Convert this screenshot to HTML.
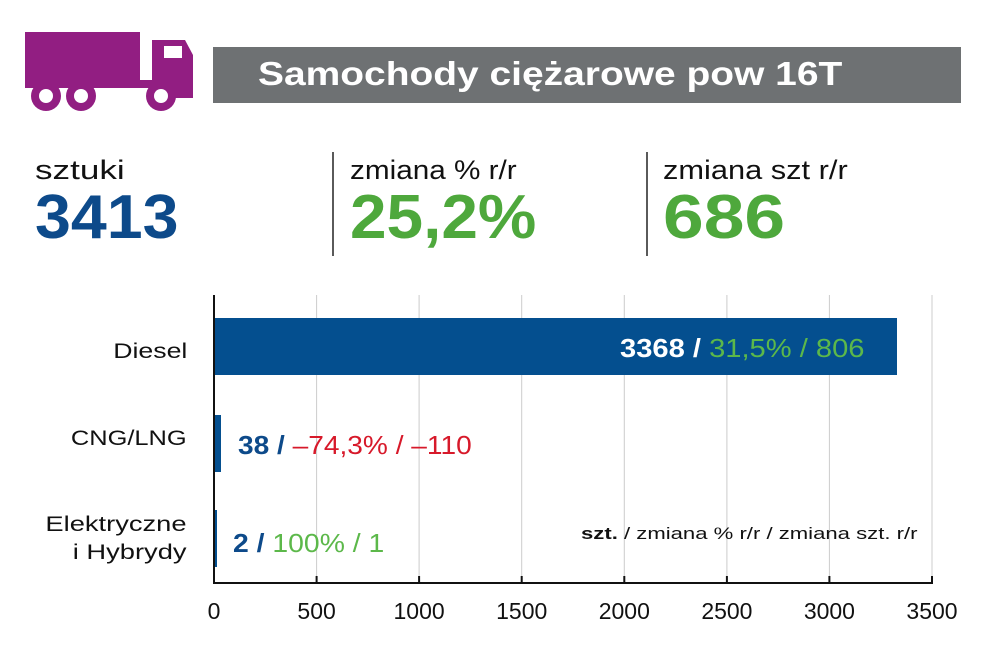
<!DOCTYPE html>
<html><head><meta charset="utf-8"><style>
body{margin:0;width:1000px;height:654px;background:#fff;font-family:"Liberation Sans",sans-serif;overflow:hidden;position:relative}
.a{position:absolute;white-space:nowrap;transform-origin:left top}
.r{transform-origin:right top}
</style></head><body>
<svg class="a" style="left:0;top:0" width="1000" height="654">
<g fill="#921e82">
<rect x="25" y="32" width="115" height="49"/>
<rect x="25" y="80" width="165" height="8"/>
<path d="M152 40 H185 L193 55 V98 H152 Z"/>
<circle cx="46" cy="96" r="15"/><circle cx="81" cy="96" r="15"/><circle cx="161" cy="96" r="15"/>
</g>
<rect x="164" y="46" width="18" height="12" fill="#fff"/>
<circle cx="46" cy="96" r="7" fill="#fff"/><circle cx="81" cy="96" r="7" fill="#fff"/><circle cx="161" cy="96" r="7" fill="#fff"/>
<rect x="213" y="47" width="748" height="56" fill="#6e7173"/>
<line x1="333" y1="152" x2="333" y2="256" stroke="#222" stroke-width="1.5"/>
<line x1="647" y1="152" x2="647" y2="256" stroke="#222" stroke-width="1.5"/>
<g stroke="#ccc" stroke-width="1">
<line x1="316.6" y1="295" x2="316.6" y2="583"/><line x1="419.1" y1="295" x2="419.1" y2="583"/>
<line x1="521.7" y1="295" x2="521.7" y2="583"/><line x1="624.3" y1="295" x2="624.3" y2="583"/>
<line x1="726.9" y1="295" x2="726.9" y2="583"/><line x1="829.4" y1="295" x2="829.4" y2="583"/>
<line x1="932" y1="295" x2="932" y2="583"/></g>
<rect x="214" y="318" width="683" height="57" fill="#044f8f"/>
<rect x="214" y="415" width="7" height="57" fill="#044f8f"/>
<rect x="214" y="510" width="3" height="57" fill="#044f8f"/>
<g stroke="#111" stroke-width="2">
<line x1="214" y1="295" x2="214" y2="583"/><line x1="213" y1="583" x2="933" y2="583"/>
<line x1="316.6" y1="576" x2="316.6" y2="583"/><line x1="419.1" y1="576" x2="419.1" y2="583"/>
<line x1="521.7" y1="576" x2="521.7" y2="583"/><line x1="624.3" y1="576" x2="624.3" y2="583"/>
<line x1="726.9" y1="576" x2="726.9" y2="583"/><line x1="829.4" y1="576" x2="829.4" y2="583"/>
<line x1="932" y1="576" x2="932" y2="583"/></g>
<g font-family="Liberation Sans,sans-serif" font-size="23" fill="#111" text-anchor="middle">
<text x="214" y="619">0</text><text x="316.6" y="619">500</text><text x="419.1" y="619">1000</text>
<text x="521.7" y="619">1500</text><text x="624.3" y="619">2000</text><text x="726.9" y="619">2500</text>
<text x="829.4" y="619">3000</text><text x="932" y="619">3500</text></g>
</svg>
<div class="a" style="left:258px;top:55px;font-size:33px;font-weight:bold;color:#fff;transform:scaleX(1.18)">Samochody ciężarowe pow 16T</div>
<div class="a" style="left:35px;top:155px;font-size:27px;color:#111;transform:scaleX(1.3)">sztuki</div>
<div class="a" style="left:35px;top:182px;font-size:62px;font-weight:bold;color:#0d4a8a;transform:scaleX(1.04)">3413</div>
<div class="a" style="left:350px;top:155px;font-size:27px;color:#111;transform:scaleX(1.1)">zmiana % r/r</div>
<div class="a" style="left:350px;top:182px;font-size:62px;font-weight:bold;color:#4ea83c;transform:scaleX(1.06)">25,2%</div>
<div class="a" style="left:663px;top:155px;font-size:27px;color:#111;transform:scaleX(1.14)">zmiana szt r/r</div>
<div class="a" style="left:663px;top:182px;font-size:62px;font-weight:bold;color:#4ea83c;transform:scaleX(1.18)">686</div>
<div class="a r" style="right:813px;top:340px;font-size:21px;color:#111;transform:scaleX(1.27)">Diesel</div>
<div class="a r" style="right:813px;top:427px;font-size:21px;color:#111;transform:scaleX(1.21)">CNG/LNG</div>
<div class="a r" style="right:813px;top:511px;font-size:21px;color:#111;text-align:right;line-height:28px;transform:scaleX(1.3)">Elektryczne<br>i Hybrydy</div>
<div class="a" style="left:620px;top:333px;font-size:26px;color:#fff;transform:scaleX(1.12)"><b>3368 /</b> <span style="color:#5cb84a">31,5% / 806</span></div>
<div class="a" style="left:238px;top:430px;font-size:26px;color:#0d4a8a;transform:scaleX(1.08)"><b>38 /</b> <span style="color:#d7192a">–74,3% / –110</span></div>
<div class="a" style="left:233px;top:528px;font-size:26px;color:#0d4a8a;transform:scaleX(1.09)"><b>2 /</b> <span style="color:#5cb84a">100% / 1</span></div>
<div class="a" style="left:581px;top:524px;font-size:17px;color:#111;transform:scaleX(1.3)"><b>szt.</b> / zmiana % r/r / zmiana szt. r/r</div>
</body></html>
